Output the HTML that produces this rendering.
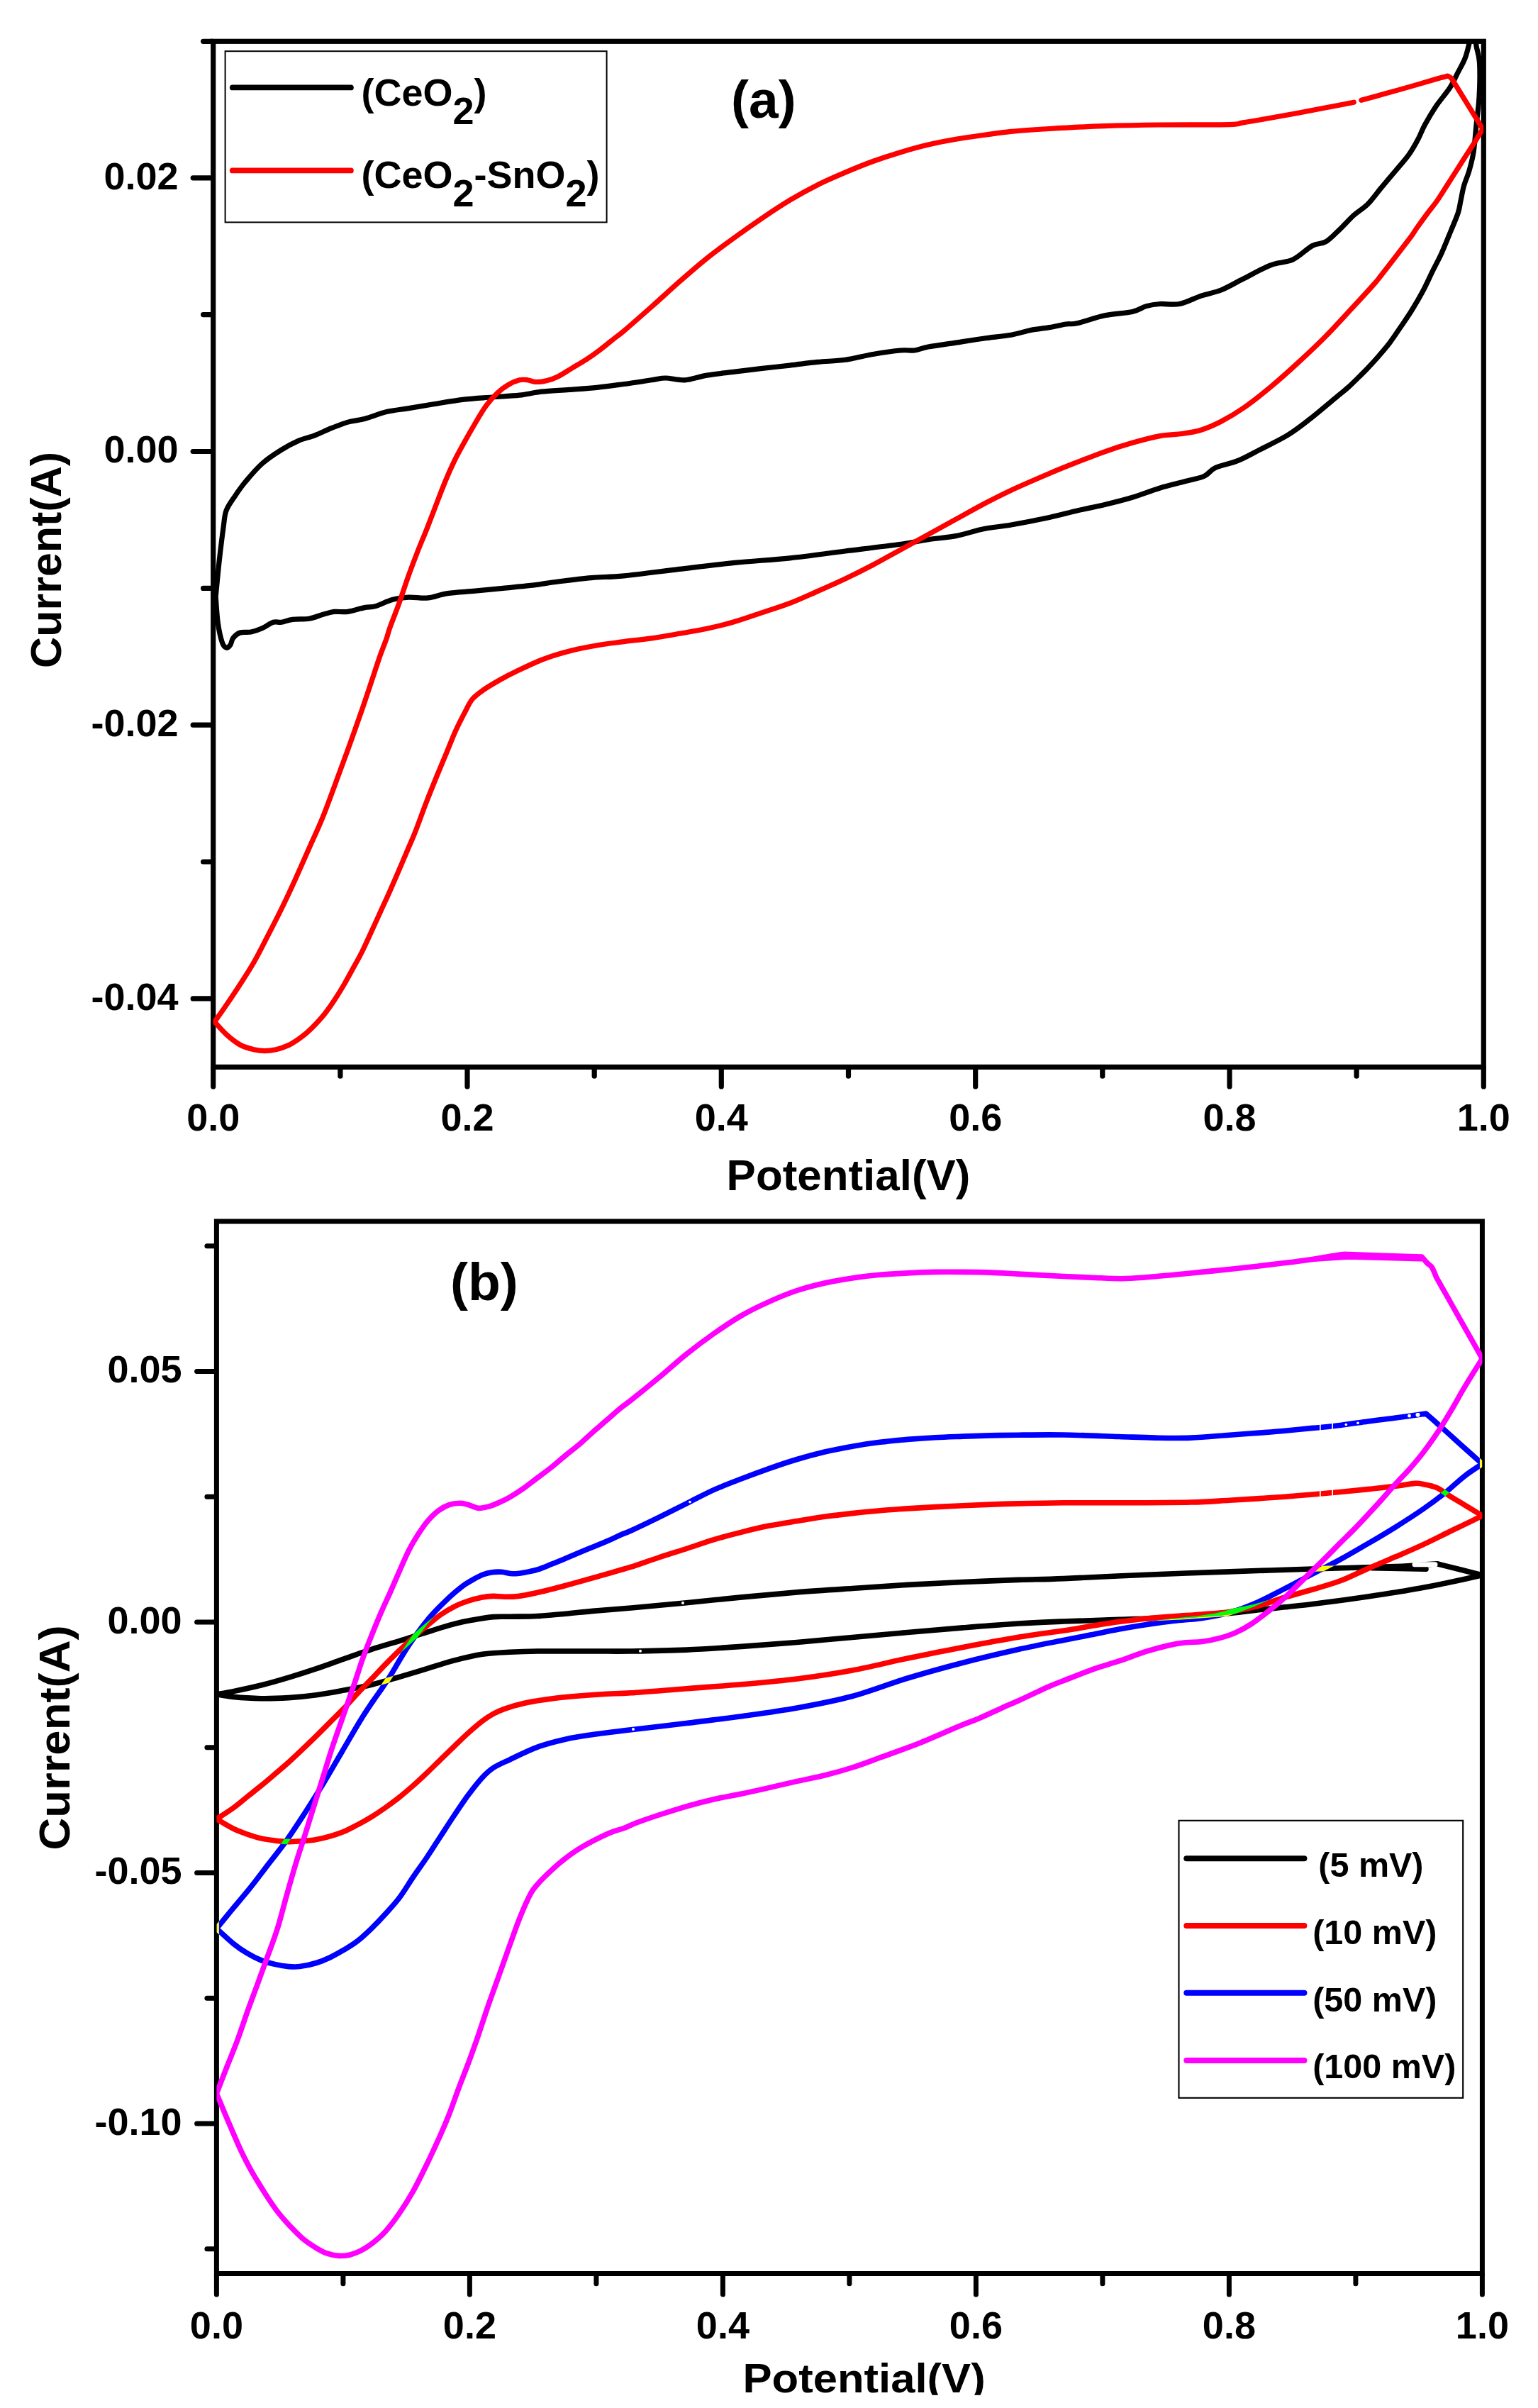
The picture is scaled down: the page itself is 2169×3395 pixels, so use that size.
<!DOCTYPE html>
<html lang="en"><head><meta charset="utf-8"><title>Cyclic voltammetry curves</title>
<style>html,body{margin:0;padding:0;background:#fff}svg{display:block}text{font-family:'Liberation Sans', Arial, Helvetica, sans-serif;font-weight:bold;fill:#000}</style></head><body>
<svg width="2169" height="3395" viewBox="0 0 2169 3395">
<rect width="2169" height="3395" fill="#fff"/>
<g stroke="#000" stroke-width="7.2" fill="none" stroke-linecap="round"><rect x="300.7" y="58.3" width="1791.6" height="1446.1" stroke-linejoin="miter"/><path d="M300.7,1505.9V1531.9"/><path d="M659.0,1505.9V1531.9"/><path d="M1017.3,1505.9V1531.9"/><path d="M1375.7,1505.9V1531.9"/><path d="M1734.0,1505.9V1531.9"/><path d="M2092.3,1505.9V1531.9"/><path d="M479.9,1505.9V1517.2"/><path d="M838.2,1505.9V1517.2"/><path d="M1196.5,1505.9V1517.2"/><path d="M1554.8,1505.9V1517.2"/><path d="M1913.1,1505.9V1517.2"/><path d="M299.2,250.8H272.2"/><path d="M299.2,636.5H272.2"/><path d="M299.2,1022.2H272.2"/><path d="M299.2,1407.9H272.2"/><path d="M299.2,58.3H286.6"/><path d="M299.2,443.6H286.6"/><path d="M299.2,829.4H286.6"/><path d="M299.2,1215.0H286.6"/></g>
<clipPath id="ca"><rect x="300.7" y="58.3" width="1791.6" height="1446.1"/></clipPath>
<g clip-path="url(#ca)" fill="none" stroke-linejoin="round" stroke-linecap="round">
<path d="M304.2,841.0C305.1,832.5 307.5,806.3 309.3,790.0C311.1,773.7 313.5,754.7 315.1,743.0C316.7,731.3 316.4,727.1 319.0,720.0C321.6,712.9 326.1,707.2 330.7,700.4C335.2,693.6 339.8,686.8 346.3,679.0C352.8,671.2 361.2,661.1 369.7,653.6C378.1,646.1 388.5,639.4 397.0,634.1C405.5,628.8 412.7,625.0 420.5,621.6C428.3,618.2 436.1,616.8 443.9,613.8C451.7,610.8 459.5,606.8 467.3,603.7C475.1,600.6 482.9,597.3 490.7,595.1C498.5,592.9 505.0,592.8 514.1,590.4C523.2,588.0 534.9,583.1 545.3,580.6C555.7,578.1 565.5,577.4 576.5,575.6C587.5,573.8 598.6,571.8 611.6,569.7C624.6,567.6 640.9,564.7 654.6,563.1C668.3,561.5 680.6,561.0 693.6,560.0C706.6,559.0 720.9,558.5 732.6,557.2C744.3,555.9 752.1,553.5 763.8,552.2C775.5,550.9 789.8,550.4 802.8,549.4C815.8,548.4 828.9,547.6 841.8,546.3C854.7,545.0 867.1,543.2 880.0,541.5C892.9,539.8 909.2,537.2 919.0,535.8C928.8,534.4 930.7,533.0 938.5,533.0C946.3,533.0 956.0,536.4 965.8,535.8C975.5,535.1 985.3,531.0 997.0,529.1C1008.7,527.2 1023.0,525.7 1036.0,524.1C1049.0,522.5 1062.0,520.9 1075.0,519.4C1088.0,517.9 1101.0,516.6 1114.0,515.1C1127.0,513.6 1140.0,511.7 1153.0,510.4C1166.0,509.1 1179.0,509.1 1192.0,507.3C1205.0,505.5 1218.0,501.7 1231.0,499.5C1244.0,497.3 1260.2,494.9 1270.0,494.0C1279.8,493.1 1283.2,494.8 1289.7,494.0C1296.2,493.2 1299.3,490.8 1309.0,489.0C1318.7,487.2 1335.0,485.1 1348.0,483.1C1361.0,481.1 1374.0,479.0 1387.0,477.2C1400.0,475.4 1414.9,474.1 1426.0,472.2C1437.1,470.2 1444.5,467.3 1453.5,465.5C1462.5,463.7 1471.7,463.0 1480.0,461.6C1488.3,460.2 1496.9,458.0 1503.4,457.0C1509.9,456.0 1509.9,457.8 1519.0,455.8C1528.1,453.8 1545.0,447.5 1558.0,444.8C1571.0,442.1 1587.2,441.6 1597.0,439.4C1606.8,437.2 1610.1,433.4 1616.6,431.6C1623.1,429.8 1628.2,429.0 1636.0,428.5C1643.8,428.0 1653.6,430.4 1663.4,428.5C1673.2,426.6 1684.8,420.1 1694.6,416.8C1704.4,413.6 1712.3,412.9 1722.0,409.0C1731.7,405.1 1741.3,399.2 1753.0,393.3C1764.7,387.4 1780.3,378.4 1792.0,373.8C1803.7,369.2 1813.5,370.6 1823.3,366.0C1833.1,361.4 1842.9,350.7 1850.7,346.5C1858.5,342.3 1863.5,344.6 1870.0,340.7C1876.5,336.8 1883.2,329.3 1889.7,323.1C1896.2,316.9 1902.5,309.5 1909.0,303.6C1915.5,297.8 1922.2,294.5 1928.7,288.0C1935.2,281.5 1941.5,272.4 1948.0,264.6C1954.5,256.8 1961.2,249.0 1967.7,241.2C1974.2,233.4 1981.6,225.3 1987.0,217.8C1992.4,210.3 1996.3,203.0 2000.0,196.0C2003.7,189.0 2005.2,183.7 2009.4,176.0C2013.6,168.3 2019.2,158.7 2025.0,150.0C2030.8,141.3 2039.3,132.0 2044.5,124.0C2049.7,116.0 2052.6,108.8 2056.2,101.9C2059.8,95.0 2063.4,89.1 2066.0,82.4C2068.6,75.8 2070.1,69.1 2071.8,62.0C2073.5,54.9 2075.0,45.7 2076.0,40.0C2077.0,34.3 2077.7,30.0 2078.0,28.0L2078.0,28.0C2078.3,28.0 2079.7,28.0 2080.0,28.0L2080.0,28.0C2080.3,33.7 2080.5,52.0 2081.6,62.0C2082.7,72.0 2085.8,75.8 2086.5,88.3C2087.2,100.8 2086.8,122.4 2086.0,137.0C2085.2,151.6 2083.3,163.0 2082.0,176.0C2080.7,189.0 2079.7,204.3 2078.0,215.0C2076.3,225.7 2074.2,232.6 2072.0,240.4C2069.8,248.2 2066.5,254.9 2064.5,262.0C2062.5,269.1 2061.4,276.7 2060.0,283.0C2058.6,289.3 2058.7,292.8 2056.3,300.0C2054.0,307.2 2049.8,316.5 2045.9,326.0C2042.0,335.5 2037.2,347.7 2032.9,357.2C2028.6,366.7 2024.2,374.4 2019.9,383.2C2015.6,392.0 2011.7,401.0 2006.9,410.0C2002.1,419.0 1996.5,428.6 1991.3,437.0C1986.1,445.4 1980.9,452.8 1975.7,460.5C1970.5,468.2 1965.3,476.1 1960.1,483.0C1954.9,489.9 1949.7,495.8 1944.5,501.8C1939.3,507.8 1933.5,514.1 1928.9,519.0C1924.3,523.9 1921.6,526.5 1917.0,531.0C1912.4,535.5 1906.6,541.3 1901.4,546.0C1896.2,550.7 1894.9,551.5 1885.8,559.0C1876.7,566.5 1858.5,582.1 1846.8,591.2C1835.1,600.3 1827.2,606.6 1815.5,613.8C1803.8,620.9 1788.2,628.1 1776.5,634.1C1764.8,640.1 1755.7,645.5 1745.3,649.7C1734.9,653.9 1721.8,655.9 1714.0,659.5C1706.2,663.1 1705.0,668.2 1698.5,671.2C1692.0,674.2 1685.4,675.0 1675.0,677.8C1664.6,680.6 1649.0,684.1 1636.0,688.0C1623.0,691.9 1610.0,697.3 1597.0,701.2C1584.0,705.1 1571.0,708.3 1558.0,711.4C1545.0,714.5 1532.0,717.0 1519.0,720.0C1506.0,723.0 1495.5,726.2 1480.0,729.5C1464.5,732.8 1441.5,737.3 1426.0,740.0C1410.5,742.7 1400.0,743.2 1387.0,745.8C1374.0,748.4 1361.0,753.1 1348.0,755.6C1335.0,758.1 1322.0,758.7 1309.0,760.6C1296.0,762.5 1289.5,764.6 1270.0,767.3C1250.5,770.0 1218.0,773.8 1192.0,777.0C1166.0,780.2 1140.0,784.1 1114.0,786.8C1088.0,789.5 1062.0,790.8 1036.0,793.4C1010.0,796.0 984.0,799.3 958.0,802.4C932.0,805.5 900.7,809.8 880.0,811.8C859.3,813.8 849.5,813.2 834.0,814.6C818.5,816.0 801.5,818.2 787.2,820.0C772.9,821.8 761.2,823.9 748.2,825.4C735.2,826.9 722.2,828.0 709.2,829.3C696.2,830.6 683.2,832.0 670.2,833.2C657.2,834.4 642.2,835.0 631.1,836.6C620.0,838.2 612.9,842.0 603.8,842.9C594.7,843.8 585.0,841.7 576.5,842.1C568.0,842.5 560.9,843.4 553.1,845.5C545.3,847.6 536.2,852.8 529.7,854.6C523.2,856.5 520.6,855.3 514.1,856.6C507.6,857.9 497.9,861.4 490.7,862.4C483.5,863.4 477.0,861.8 471.2,862.4C465.4,863.0 461.5,864.7 455.6,866.3C449.8,867.9 443.2,871.0 436.1,872.2C429.0,873.4 419.2,872.5 412.7,873.4C406.2,874.2 401.6,876.6 397.0,877.3C392.4,877.9 389.9,875.9 385.3,877.3C380.8,878.7 374.9,883.5 369.7,885.8C364.5,888.1 359.3,890.0 354.1,891.0C348.9,892.0 342.7,890.6 338.5,892.0C334.3,893.4 331.1,896.6 328.8,899.5C326.5,902.4 326.5,906.9 324.9,909.2C323.3,911.5 320.9,913.8 319.0,913.1C317.1,912.5 315.1,911.1 313.2,905.3C311.2,899.4 308.8,888.7 307.3,878.0C305.8,867.3 304.7,847.2 304.2,841.0" stroke="#000" stroke-width="7.2"/>
<path d="M302.6,1440.7C305.3,1436.8 313.0,1426.1 319.0,1417.3C325.0,1408.5 332.0,1398.1 338.5,1388.0C345.0,1377.9 351.5,1368.2 358.0,1356.8C364.5,1345.4 371.0,1332.3 377.5,1319.7C384.0,1307.1 390.5,1294.7 397.0,1281.3C403.5,1267.9 410.1,1253.7 416.6,1239.4C423.1,1225.1 429.6,1210.2 436.1,1195.5C442.6,1180.8 448.5,1168.8 455.6,1151.1C462.7,1133.3 472.3,1106.5 478.8,1089.0C485.3,1071.5 489.3,1060.5 494.5,1046.0C499.7,1031.5 505.2,1015.8 510.0,1002.0C514.8,988.2 518.7,976.4 523.0,963.5C527.3,950.6 532.3,935.1 536.0,924.5C539.7,913.9 542.9,906.7 545.2,900.0C547.5,893.3 547.0,892.8 550.0,884.5C553.0,876.2 558.7,862.1 563.0,850.0C567.3,837.9 571.7,824.1 576.0,812.0C580.3,799.9 584.7,788.6 589.0,777.5C593.3,766.4 597.7,756.6 602.0,745.6C606.3,734.6 610.7,723.0 615.0,711.8C619.3,700.6 623.7,688.9 628.0,678.5C632.3,668.1 636.6,658.4 641.0,649.4C645.4,640.4 649.5,633.2 654.3,624.5C659.1,615.8 664.8,605.8 670.0,597.0C675.2,588.2 680.6,578.9 685.8,571.7C691.0,564.6 696.2,559.0 701.4,554.1C706.6,549.2 711.8,545.5 717.0,542.4C722.2,539.3 728.1,536.9 732.6,535.8C737.1,534.7 740.4,535.3 744.3,535.8C748.2,536.2 751.5,538.4 756.0,538.5C760.5,538.6 766.4,537.9 771.6,536.6C776.8,535.3 781.4,533.6 787.2,530.7C793.1,527.8 800.2,522.9 806.7,519.0C813.2,515.1 819.7,511.5 826.2,507.3C832.7,503.1 839.2,498.5 845.7,493.6C852.2,488.7 859.6,482.5 865.3,478.0C871.0,473.5 871.0,474.1 880.0,466.5C889.0,458.9 906.0,443.9 919.0,432.4C932.0,420.9 945.0,408.7 958.0,397.3C971.0,385.9 984.0,374.5 997.0,364.1C1010.0,353.7 1023.0,344.2 1036.0,334.8C1049.0,325.4 1062.0,316.3 1075.0,307.5C1088.0,298.7 1101.0,290.0 1114.0,282.2C1127.0,274.4 1140.0,267.2 1153.0,260.7C1166.0,254.2 1179.0,248.6 1192.0,243.1C1205.0,237.6 1218.0,232.2 1231.0,227.5C1244.0,222.8 1257.0,218.6 1270.0,214.7C1283.0,210.8 1296.0,207.2 1309.0,204.1C1322.0,201.0 1335.0,198.6 1348.0,196.3C1361.0,194.0 1374.0,192.3 1387.0,190.5C1400.0,188.7 1410.5,186.9 1426.0,185.4C1441.5,183.9 1458.0,182.8 1480.0,181.5C1502.0,180.2 1532.0,178.5 1558.0,177.6C1584.0,176.7 1606.7,176.3 1636.0,176.0C1665.3,175.7 1714.1,176.1 1733.6,175.6C1753.1,175.1 1743.3,174.4 1753.0,172.9C1762.7,171.4 1779.0,168.6 1792.0,166.3C1805.0,164.0 1818.0,161.6 1831.0,159.2C1844.0,156.8 1857.0,154.3 1870.0,151.8C1883.0,149.3 1902.8,145.5 1909.3,144.2" stroke="#f00" stroke-width="7.2"/>
<path d="M1919.8,141.2C1924.5,139.9 1936.8,136.6 1948.0,133.5C1959.2,130.4 1974.0,126.3 1987.0,122.6C2000.0,118.9 2016.9,113.9 2026.0,111.3C2035.1,108.7 2039.0,107.7 2041.6,107.0L2041.6,107.0C2042.4,107.5 2044.9,108.2 2046.5,110.0C2048.1,111.8 2050.6,116.2 2051.4,117.5L2051.4,117.5C2058.0,128.2 2084.4,171.2 2091.0,181.9L2091.0,181.9C2089.2,184.9 2084.4,193.0 2080.0,200.0C2075.6,207.0 2071.4,213.2 2064.5,224.0C2057.6,234.8 2045.1,254.5 2038.7,264.5C2032.3,274.5 2030.2,278.0 2026.0,284.0C2021.8,290.0 2018.0,294.2 2013.3,300.5C2008.6,306.8 2002.1,315.8 1997.7,322.0C1993.3,328.2 1995.3,326.5 1987.0,337.5C1978.7,348.5 1956.4,377.2 1948.0,388.0C1939.6,398.8 1943.0,394.7 1936.5,402.0C1930.0,409.3 1920.1,420.1 1909.0,432.0C1897.9,443.9 1883.0,460.5 1870.0,473.7C1857.0,486.9 1844.0,499.0 1831.0,511.0C1818.0,523.0 1805.0,534.7 1792.0,545.5C1779.0,556.3 1764.7,567.5 1753.0,575.6C1741.3,583.7 1731.7,589.2 1722.0,594.3C1712.3,599.4 1703.7,603.1 1694.6,606.0C1685.5,608.9 1677.1,610.1 1667.3,611.5C1657.5,612.9 1647.7,612.5 1636.0,614.6C1624.3,616.7 1610.0,620.6 1597.0,624.3C1584.0,628.0 1571.0,632.2 1558.0,636.8C1545.0,641.4 1532.0,646.6 1519.0,651.7C1506.0,656.8 1495.5,660.9 1480.0,667.5C1464.5,674.1 1441.5,684.0 1426.0,691.2C1410.5,698.4 1400.0,703.9 1387.0,710.7C1374.0,717.5 1361.0,725.1 1348.0,732.2C1335.0,739.4 1322.0,746.5 1309.0,753.6C1296.0,760.8 1283.0,768.0 1270.0,775.1C1257.0,782.2 1244.0,789.7 1231.0,796.5C1218.0,803.3 1205.0,809.8 1192.0,816.0C1179.0,822.2 1166.0,827.9 1153.0,833.6C1140.0,839.3 1127.0,845.4 1114.0,850.4C1101.0,855.4 1088.0,859.2 1075.0,863.6C1062.0,868.0 1049.0,872.7 1036.0,876.5C1023.0,880.3 1010.0,883.5 997.0,886.3C984.0,889.1 971.0,891.0 958.0,893.3C945.0,895.6 932.0,898.0 919.0,899.9C906.0,901.8 892.2,903.0 880.0,904.6C867.8,906.2 857.9,907.1 845.7,909.2C833.5,911.3 819.7,913.7 806.7,917.0C793.7,920.3 780.7,923.9 767.7,928.8C754.7,933.7 739.1,941.3 728.7,946.3C718.3,951.2 712.9,954.1 705.1,958.5C697.3,962.9 688.2,968.2 681.7,972.8C675.2,977.3 670.4,980.6 666.1,985.8C661.8,991.0 659.6,996.6 655.7,1004.0C651.8,1011.4 647.0,1020.5 642.7,1030.0C638.4,1039.5 634.0,1050.9 629.7,1061.3C625.4,1071.7 621.5,1080.8 616.7,1092.5C611.9,1104.2 606.3,1118.1 601.1,1131.5C595.9,1144.9 589.7,1162.4 585.5,1173.1C581.3,1183.8 579.8,1186.7 576.0,1195.5C572.2,1204.3 567.3,1215.9 563.0,1226.0C558.7,1236.1 554.3,1246.2 550.0,1256.0C545.7,1265.8 541.3,1275.0 537.0,1284.5C532.7,1294.0 528.3,1303.6 524.0,1313.0C519.7,1322.4 515.3,1332.3 511.0,1341.0C506.7,1349.7 502.3,1357.1 498.0,1365.0C493.7,1372.9 489.3,1381.1 485.0,1388.5C480.7,1395.9 476.3,1402.9 472.0,1409.5C467.7,1416.1 463.3,1422.4 459.0,1428.0C454.7,1433.6 450.3,1438.4 446.0,1443.0C441.7,1447.6 437.3,1452.0 433.0,1455.8C428.7,1459.6 424.3,1462.8 420.0,1465.8C415.7,1468.8 412.1,1471.3 407.0,1473.6C401.9,1475.9 394.8,1478.4 389.2,1479.7C383.6,1481.0 378.8,1481.6 373.6,1481.6C368.4,1481.6 363.9,1481.1 358.0,1479.7C352.1,1478.3 345.0,1476.6 338.5,1473.0C332.0,1469.4 325.0,1463.6 319.0,1458.2C313.0,1452.8 305.3,1443.6 302.6,1440.7" stroke="#f00" stroke-width="7.2"/>
</g>
<text x="300.7" y="1594.3" font-size="54" text-anchor="middle">0.0</text>
<text x="659.0" y="1594.3" font-size="54" text-anchor="middle">0.2</text>
<text x="1017.3" y="1594.3" font-size="54" text-anchor="middle">0.4</text>
<text x="1375.7" y="1594.3" font-size="54" text-anchor="middle">0.6</text>
<text x="1734.0" y="1594.3" font-size="54" text-anchor="middle">0.8</text>
<text x="2092.3" y="1594.3" font-size="54" text-anchor="middle">1.0</text>
<text x="251.5" y="266.6" font-size="54" text-anchor="end">0.02</text>
<text x="251.5" y="652.3" font-size="54" text-anchor="end">0.00</text>
<text x="251.5" y="1038.0" font-size="54" text-anchor="end">-0.02</text>
<text x="251.5" y="1423.7" font-size="54" text-anchor="end">-0.04</text>
<text transform="translate(1196.5,1677.8) scale(1.0145,1)" font-size="61" text-anchor="middle">Potential(V)</text>
<text transform="translate(86.3,789.4) rotate(-90)" font-size="61" text-anchor="middle">Current(A)</text>
<text x="1076.8" y="165.5" font-size="75" text-anchor="middle">(a)</text>
<rect x="317.6" y="72.2" width="538" height="241.2" fill="#fff" stroke="#000" stroke-width="2"/>
<g stroke-width="7.8" stroke-linecap="round"><path d="M327.8,123.4H494.9" stroke="#000"/><path d="M327.8,240.4H494.9" stroke="#f00"/></g>
<text x="509.5" y="149.1" font-size="54">(CeO<tspan dy="26">2</tspan><tspan dy="-26">)</tspan></text>
<text x="509.5" y="265.2" font-size="54">(CeO<tspan dy="26">2</tspan><tspan dy="-26">-SnO</tspan><tspan dy="26">2</tspan><tspan dy="-26">)</tspan></text>
<g stroke="#000" stroke-width="7.0" fill="none" stroke-linecap="round"><rect x="305.4" y="1722.0" width="1785.0" height="1483.5" stroke-linejoin="miter"/><path d="M305.4,3207.0V3234.9"/><path d="M662.4,3207.0V3234.9"/><path d="M1019.4,3207.0V3234.9"/><path d="M1376.4,3207.0V3234.9"/><path d="M1733.4,3207.0V3234.9"/><path d="M2090.4,3207.0V3234.9"/><path d="M483.9,3207.0V3219.8"/><path d="M840.9,3207.0V3219.8"/><path d="M1197.9,3207.0V3219.8"/><path d="M1554.9,3207.0V3219.8"/><path d="M1911.9,3207.0V3219.8"/><path d="M303.9,1933.5H277.6"/><path d="M303.9,2287.0H277.6"/><path d="M303.9,2640.5H277.6"/><path d="M303.9,2994.0H277.6"/><path d="M303.9,1756.8H291.9"/><path d="M303.9,2110.2H291.9"/><path d="M303.9,2463.8H291.9"/><path d="M303.9,2817.2H291.9"/><path d="M303.9,3170.8H291.9"/></g>
<clipPath id="cb"><rect x="305.4" y="1722.0" width="1785.0" height="1483.5"/></clipPath>
<g clip-path="url(#cb)" fill="none" stroke-linejoin="round" stroke-linecap="round">
<path d="M305.4,2388.7C309.3,2388.0 318.6,2386.7 329.0,2384.6C339.4,2382.5 355.0,2379.2 368.0,2376.0C381.0,2372.8 394.0,2369.0 407.0,2365.1C420.0,2361.2 433.1,2357.0 446.1,2352.6C459.1,2348.2 472.1,2343.4 485.1,2338.9C498.1,2334.4 511.1,2329.5 524.1,2325.3C537.1,2321.1 550.1,2317.6 563.1,2313.6C576.1,2309.6 589.1,2305.1 602.1,2301.1C615.1,2297.1 630.8,2292.2 641.2,2289.4C651.6,2286.6 655.5,2285.9 664.6,2284.3C673.7,2282.7 686.7,2280.4 695.8,2279.6C704.9,2278.8 708.8,2279.4 719.2,2279.2C729.6,2279.0 745.2,2279.2 758.2,2278.5C771.2,2277.8 784.2,2276.5 797.2,2275.3C810.2,2274.1 820.7,2272.8 836.2,2271.4C851.7,2270.0 868.0,2268.9 890.0,2267.0C912.0,2265.1 942.0,2262.2 968.0,2259.7C994.0,2257.2 1020.0,2254.4 1046.0,2251.9C1072.0,2249.4 1098.0,2247.0 1124.0,2244.9C1150.0,2242.8 1176.0,2241.2 1202.0,2239.5C1228.0,2237.8 1254.0,2235.9 1280.0,2234.4C1306.0,2232.9 1332.0,2231.7 1358.0,2230.5C1384.0,2229.3 1412.3,2228.2 1436.0,2227.4C1459.7,2226.6 1469.8,2226.8 1500.0,2225.6C1530.2,2224.4 1578.0,2221.8 1617.0,2220.2C1656.0,2218.6 1695.1,2217.3 1734.1,2215.9C1773.1,2214.5 1812.2,2213.2 1851.2,2212.0C1890.2,2210.8 1942.2,2209.5 1968.2,2208.5C1994.2,2207.5 1997.4,2206.7 2007.2,2206.1C2017.0,2205.5 2023.7,2205.0 2027.0,2204.8L2027.0,2204.8C2037.6,2207.5 2079.8,2218.1 2090.4,2220.8L2090.4,2220.8C2083.0,2222.4 2060.9,2227.4 2046.2,2230.5C2031.5,2233.6 2015.0,2236.8 2002.0,2239.2C1989.0,2241.6 1980.3,2243.0 1968.2,2245.0C1956.1,2247.0 1942.2,2249.1 1929.2,2251.0C1916.2,2252.9 1903.2,2254.8 1890.2,2256.5C1877.2,2258.2 1864.2,2259.9 1851.2,2261.5C1838.2,2263.1 1825.1,2264.4 1812.1,2265.8C1799.1,2267.2 1786.1,2268.6 1773.1,2270.0C1760.1,2271.4 1753.6,2272.8 1734.1,2274.5C1714.6,2276.2 1682.0,2278.8 1656.0,2280.3C1630.0,2281.8 1604.0,2282.5 1578.0,2283.4C1552.0,2284.3 1523.7,2285.1 1500.0,2286.0C1476.3,2286.9 1459.7,2287.5 1436.0,2289.0C1412.3,2290.5 1384.0,2292.8 1358.0,2294.9C1332.0,2297.0 1306.0,2299.2 1280.0,2301.5C1254.0,2303.8 1228.0,2306.2 1202.0,2308.5C1176.0,2310.8 1150.0,2313.3 1124.0,2315.5C1098.0,2317.7 1072.0,2319.6 1046.0,2321.4C1020.0,2323.2 994.0,2325.0 968.0,2326.1C942.0,2327.2 912.0,2327.7 890.0,2328.0C868.0,2328.3 858.2,2328.0 836.2,2328.0C814.2,2328.0 777.7,2327.8 758.2,2328.0C738.7,2328.2 732.2,2328.5 719.2,2329.2C706.2,2329.9 693.2,2330.4 680.2,2332.3C667.2,2334.2 654.2,2337.5 641.2,2340.9C628.2,2344.3 615.1,2348.7 602.1,2352.6C589.1,2356.5 576.1,2360.5 563.1,2364.3C550.1,2368.1 537.1,2372.1 524.1,2375.2C511.1,2378.3 498.1,2380.6 485.1,2383.0C472.1,2385.4 459.1,2387.9 446.1,2389.7C433.1,2391.5 420.0,2392.8 407.0,2393.6C394.0,2394.4 381.0,2394.9 368.0,2394.7C355.0,2394.5 339.4,2393.4 329.0,2392.4C318.6,2391.4 309.3,2389.3 305.4,2388.7" stroke="#000" stroke-width="7.6"/>
<path d="M1935,2210.8L2011,2212.2" stroke="#000" stroke-width="7.6"/>
<path d="M1995,2205.7H2024" stroke="#fff" stroke-width="7"/>
<path d="M305.4,2564.6C309.3,2562.0 321.8,2554.2 329.0,2549.0C336.2,2543.8 342.0,2538.6 348.5,2533.4C355.0,2528.2 361.5,2523.1 368.0,2517.8C374.5,2512.5 381.0,2506.9 387.5,2501.4C394.0,2495.9 400.5,2490.4 407.0,2484.6C413.5,2478.8 420.1,2472.5 426.6,2466.3C433.1,2460.1 439.6,2453.9 446.1,2447.5C452.6,2441.1 459.1,2434.5 465.6,2428.0C472.1,2421.5 478.6,2415.3 485.1,2408.5C491.6,2401.7 498.1,2394.0 504.6,2387.1C511.1,2380.2 517.6,2373.8 524.1,2367.0C530.6,2360.2 537.1,2353.2 543.6,2346.5C550.1,2339.8 556.6,2333.2 563.1,2327.0C569.6,2320.8 576.1,2314.8 582.6,2309.0C589.1,2303.2 595.6,2297.5 602.1,2292.1C608.6,2286.7 615.1,2281.1 621.6,2276.5C628.1,2271.9 634.7,2268.1 641.2,2264.8C647.7,2261.6 654.2,2259.2 660.7,2257.0C667.2,2254.8 674.4,2253.0 680.2,2251.9C686.1,2250.8 690.6,2250.5 695.8,2250.4C701.0,2250.3 705.5,2251.2 711.4,2251.2C717.2,2251.2 723.1,2251.4 730.9,2250.4C738.7,2249.4 750.4,2246.9 758.2,2245.3C766.0,2243.7 771.2,2242.2 777.7,2240.6C784.2,2239.0 790.7,2237.2 797.2,2235.5C803.7,2233.8 810.2,2231.9 816.7,2230.1C823.2,2228.3 829.7,2226.4 836.2,2224.6C842.7,2222.8 849.2,2221.1 855.7,2219.2C862.2,2217.3 869.6,2215.0 875.3,2213.3C881.0,2211.6 881.0,2212.1 890.0,2209.2C899.0,2206.3 916.0,2200.3 929.0,2196.0C942.0,2191.7 955.0,2187.7 968.0,2183.5C981.0,2179.3 994.0,2174.5 1007.0,2170.6C1020.0,2166.7 1033.0,2163.3 1046.0,2160.1C1059.0,2156.8 1072.0,2153.7 1085.0,2151.1C1098.0,2148.5 1111.0,2146.6 1124.0,2144.5C1137.0,2142.4 1150.0,2140.1 1163.0,2138.3C1176.0,2136.5 1189.0,2135.0 1202.0,2133.6C1215.0,2132.2 1228.0,2130.8 1241.0,2129.7C1254.0,2128.6 1267.0,2127.8 1280.0,2126.9C1293.0,2126.1 1306.0,2125.3 1319.0,2124.6C1332.0,2123.9 1345.0,2123.3 1358.0,2122.7C1371.0,2122.1 1384.0,2121.6 1397.0,2121.1C1410.0,2120.6 1418.8,2120.3 1436.0,2119.9C1453.2,2119.5 1476.3,2119.0 1500.0,2118.8C1523.7,2118.6 1548.1,2118.9 1578.0,2118.8C1607.9,2118.7 1653.5,2118.6 1679.5,2118.0C1705.5,2117.4 1718.5,2116.0 1734.1,2115.2C1749.7,2114.3 1760.1,2113.7 1773.1,2112.9C1786.1,2112.1 1799.1,2111.2 1812.1,2110.2C1825.1,2109.2 1838.2,2108.1 1851.2,2107.0C1864.2,2105.9 1877.2,2104.7 1890.2,2103.5C1903.2,2102.3 1916.2,2101.0 1929.2,2099.6C1942.2,2098.2 1957.2,2096.7 1968.2,2095.3C1979.2,2093.9 1989.0,2091.9 1995.5,2091.4C2002.0,2090.9 2002.0,2091.6 2007.2,2092.6C2012.4,2093.6 2020.2,2094.8 2026.7,2097.7C2033.2,2100.6 2039.7,2106.2 2046.2,2110.2C2052.7,2114.2 2058.3,2117.4 2065.7,2121.9C2073.1,2126.4 2086.3,2134.5 2090.4,2137.0L2090.4,2137.0C2086.3,2139.0 2073.1,2145.6 2065.7,2149.2C2058.3,2152.8 2055.9,2153.8 2046.2,2158.5C2036.5,2163.2 2020.2,2171.5 2007.2,2177.6C1994.2,2183.7 1981.2,2189.2 1968.2,2194.8C1955.2,2200.4 1942.2,2205.7 1929.2,2211.4C1916.2,2217.1 1903.2,2223.9 1890.2,2228.8C1877.2,2233.7 1864.2,2237.1 1851.2,2241.0C1838.2,2244.9 1825.1,2248.1 1812.1,2252.0C1799.1,2255.9 1786.1,2261.1 1773.1,2264.5C1760.1,2267.9 1747.1,2270.6 1734.1,2272.5C1721.1,2274.4 1708.0,2274.9 1695.0,2276.0C1682.0,2277.1 1669.0,2277.8 1656.0,2278.8C1643.0,2279.8 1630.0,2280.7 1617.0,2282.0C1604.0,2283.3 1591.0,2284.8 1578.0,2286.5C1565.0,2288.2 1552.0,2290.4 1539.0,2292.5C1526.0,2294.6 1517.2,2296.4 1500.0,2299.0C1482.8,2301.6 1459.7,2304.4 1436.0,2308.3C1412.3,2312.2 1384.0,2317.5 1358.0,2322.4C1332.0,2327.3 1306.0,2332.6 1280.0,2338.0C1254.0,2343.4 1228.0,2350.2 1202.0,2355.0C1176.0,2359.8 1150.0,2363.7 1124.0,2367.0C1098.0,2370.3 1072.0,2372.5 1046.0,2374.8C1020.0,2377.1 994.0,2378.7 968.0,2380.7C942.0,2382.7 908.7,2385.6 890.0,2386.8C871.3,2388.1 867.9,2387.5 855.7,2388.2C843.5,2388.9 829.7,2389.9 816.7,2391.0C803.7,2392.1 790.7,2393.2 777.7,2394.9C764.7,2396.7 749.8,2399.1 738.7,2401.5C727.7,2403.9 718.5,2406.8 711.4,2409.3C704.2,2411.8 701.0,2413.4 695.8,2416.3C690.6,2419.2 686.1,2422.1 680.2,2426.5C674.4,2430.9 667.2,2437.2 660.7,2443.0C654.2,2448.8 647.7,2455.2 641.2,2461.5C634.7,2467.8 628.1,2474.2 621.6,2480.5C615.1,2486.8 608.6,2493.3 602.1,2499.5C595.6,2505.7 589.1,2511.8 582.6,2517.5C576.1,2523.2 569.6,2528.8 563.1,2534.0C556.6,2539.2 550.1,2543.9 543.6,2548.5C537.1,2553.1 530.6,2557.5 524.1,2561.5C517.6,2565.5 511.1,2569.1 504.6,2572.5C498.1,2575.9 491.6,2579.5 485.1,2582.2C478.6,2584.9 472.1,2586.9 465.6,2588.8C459.1,2590.7 452.6,2592.3 446.1,2593.5C439.6,2594.7 433.1,2595.3 426.6,2595.8C420.1,2596.3 413.5,2596.7 407.0,2596.6C400.5,2596.5 394.0,2595.8 387.5,2595.0C381.0,2594.2 374.5,2593.4 368.0,2591.9C361.5,2590.4 355.0,2588.3 348.5,2586.0C342.0,2583.7 336.2,2581.8 329.0,2578.2C321.8,2574.6 309.3,2566.9 305.4,2564.6" stroke="#f00" stroke-width="7.6"/>
<path d="M305.4,2719.0C308.8,2714.8 318.2,2703.3 326.0,2693.9C333.8,2684.5 343.3,2673.5 352.0,2662.7C360.7,2651.9 369.3,2640.2 378.0,2628.9C386.7,2617.6 395.3,2607.2 404.0,2595.0C412.7,2582.8 421.3,2569.4 430.0,2556.0C438.7,2542.6 447.3,2528.7 456.0,2514.4C464.7,2500.1 473.3,2484.9 482.0,2470.2C490.7,2455.5 500.6,2438.0 508.0,2426.0C515.4,2414.0 521.3,2405.4 526.3,2398.0C531.3,2390.6 533.9,2387.3 538.0,2381.3C542.1,2375.3 546.7,2368.7 551.0,2361.8C555.3,2354.9 559.7,2346.8 564.0,2339.7C568.3,2332.5 572.7,2325.4 577.0,2318.9C581.3,2312.4 585.7,2306.5 590.0,2300.7C594.3,2294.8 598.7,2289.0 603.0,2283.8C607.3,2278.6 611.7,2274.0 616.0,2269.4C620.3,2264.8 624.7,2260.5 629.0,2256.4C633.3,2252.3 637.7,2248.4 642.0,2244.7C646.3,2241.0 650.7,2237.3 655.0,2234.3C659.3,2231.3 663.7,2228.9 668.0,2226.5C672.3,2224.1 676.7,2221.6 681.0,2220.0C685.3,2218.4 689.6,2217.3 694.0,2216.7C698.4,2216.1 702.6,2216.0 707.5,2216.3C712.4,2216.7 717.9,2218.7 723.1,2218.8C728.3,2219.0 732.9,2218.2 738.7,2217.2C744.6,2216.2 751.7,2214.9 758.2,2212.9C764.7,2210.9 771.1,2208.0 777.7,2205.3C784.3,2202.7 790.3,2200.2 798.0,2197.0C805.7,2193.8 814.4,2190.0 824.0,2186.0C833.6,2182.0 847.2,2176.8 855.7,2173.1C864.2,2169.4 869.6,2166.5 875.3,2164.0C881.0,2161.5 881.0,2162.1 890.0,2158.0C899.0,2153.9 916.0,2145.8 929.0,2139.4C942.0,2133.1 955.0,2126.4 968.0,2119.9C981.0,2113.4 994.0,2106.2 1007.0,2100.4C1020.0,2094.6 1033.0,2089.8 1046.0,2084.8C1059.0,2079.8 1072.0,2075.0 1085.0,2070.4C1098.0,2065.8 1111.0,2061.4 1124.0,2057.5C1137.0,2053.6 1150.0,2050.1 1163.0,2047.0C1176.0,2044.0 1189.0,2041.5 1202.0,2039.2C1215.0,2036.9 1228.0,2034.9 1241.0,2033.3C1254.0,2031.7 1267.0,2030.5 1280.0,2029.4C1293.0,2028.3 1306.0,2027.4 1319.0,2026.7C1332.0,2026.0 1345.0,2025.6 1358.0,2025.1C1371.0,2024.6 1384.0,2024.2 1397.0,2023.9C1410.0,2023.6 1418.8,2023.4 1436.0,2023.2C1453.2,2023.0 1476.3,2022.6 1500.0,2023.0C1523.7,2023.4 1556.5,2024.8 1578.0,2025.5C1599.5,2026.2 1611.9,2026.8 1628.8,2027.1C1645.7,2027.4 1662.0,2027.8 1679.5,2027.1C1697.0,2026.4 1718.5,2024.3 1734.1,2023.2C1749.7,2022.1 1760.1,2021.4 1773.1,2020.4C1786.1,2019.4 1799.1,2018.5 1812.1,2017.3C1825.1,2016.1 1838.2,2014.7 1851.2,2013.4C1864.2,2012.1 1877.2,2011.1 1890.2,2009.5C1903.2,2007.9 1916.2,2005.8 1929.2,2004.0C1942.2,2002.2 1954.6,2000.8 1968.2,1999.0C1981.8,1997.2 2003.9,1994.1 2011.1,1993.1L2011.1,1993.1C2013.7,1995.4 2020.8,2001.6 2026.7,2006.8C2032.6,2012.0 2039.7,2018.4 2046.2,2024.3C2052.7,2030.2 2058.3,2035.3 2065.7,2041.9C2073.1,2048.5 2086.3,2060.3 2090.4,2064.0L2090.4,2064.0C2086.3,2066.8 2074.4,2074.2 2065.7,2080.9C2057.0,2087.6 2048.2,2096.5 2038.4,2104.3C2028.7,2112.1 2018.9,2119.4 2007.2,2127.5C1995.5,2135.6 1981.2,2144.8 1968.2,2152.9C1955.2,2161.0 1942.2,2168.7 1929.2,2176.3C1916.2,2183.9 1903.2,2191.6 1890.2,2198.7C1877.2,2205.8 1864.2,2212.2 1851.2,2219.0C1838.2,2225.8 1825.1,2233.0 1812.1,2239.7C1799.1,2246.4 1786.1,2253.5 1773.1,2259.2C1760.1,2264.8 1747.1,2269.9 1734.1,2273.6C1721.1,2277.3 1708.0,2279.4 1695.0,2281.4C1682.0,2283.4 1669.0,2283.8 1656.0,2285.3C1643.0,2286.8 1630.0,2288.5 1617.0,2290.4C1604.0,2292.3 1591.0,2294.6 1578.0,2297.0C1565.0,2299.4 1552.0,2302.2 1539.0,2304.8C1526.0,2307.4 1517.2,2309.1 1500.0,2312.5C1482.8,2315.9 1459.7,2320.2 1436.0,2325.5C1412.3,2330.8 1384.0,2337.4 1358.0,2344.2C1332.0,2350.9 1306.0,2358.1 1280.0,2366.0C1254.0,2373.9 1228.0,2384.5 1202.0,2391.5C1176.0,2398.5 1150.0,2403.3 1124.0,2408.0C1098.0,2412.7 1072.0,2416.1 1046.0,2419.7C1020.0,2423.3 994.0,2426.3 968.0,2429.5C942.0,2432.7 912.0,2436.0 890.0,2438.7C868.0,2441.4 851.7,2443.3 836.2,2445.6C820.7,2447.8 810.2,2449.3 797.2,2452.2C784.2,2455.1 771.2,2458.3 758.2,2463.1C745.2,2467.8 729.6,2475.8 719.2,2480.7C708.8,2485.6 702.3,2488.2 695.8,2492.4C689.3,2496.6 686.1,2499.8 680.2,2506.1C674.4,2512.4 667.2,2521.6 660.7,2530.3C654.2,2539.0 647.7,2548.8 641.2,2558.5C634.7,2568.2 628.1,2578.5 621.6,2588.5C615.1,2598.5 608.6,2608.8 602.1,2618.5C595.6,2628.2 589.1,2636.9 582.6,2646.5C576.1,2656.1 569.6,2667.2 563.1,2675.8C556.6,2684.5 550.1,2691.2 543.6,2698.4C537.1,2705.6 530.6,2712.4 524.1,2718.7C517.6,2725.0 511.1,2731.2 504.6,2736.3C498.1,2741.4 491.6,2745.2 485.1,2749.1C478.6,2753.0 472.1,2756.6 465.6,2759.7C459.1,2762.8 453.2,2765.3 446.1,2767.5C439.0,2769.7 429.2,2771.8 422.7,2772.6C416.2,2773.4 412.9,2773.1 407.0,2772.6C401.1,2772.1 394.0,2770.9 387.5,2769.4C381.0,2767.9 374.5,2766.2 368.0,2763.6C361.5,2761.0 355.0,2757.7 348.5,2753.8C342.0,2749.9 336.2,2746.0 329.0,2740.2C321.8,2734.4 309.3,2722.5 305.4,2719.0" stroke="#00f" stroke-width="7.6"/>
<g fill="#fff" stroke="none"><circle cx="1898.3" cy="2008.6" r="1.8"/><circle cx="1915" cy="2006.3" r="1.8"/><circle cx="1987.5" cy="1996.2" r="2.4"/><circle cx="1999.5" cy="1994.8" r="3"/><circle cx="973" cy="2117.6" r="1.8"/><circle cx="963" cy="2260" r="2"/><circle cx="903" cy="2327.8" r="2"/><circle cx="893" cy="2438" r="2"/></g>
<g stroke="#fff" stroke-width="1.6" stroke-linecap="butt"><path d="M1861.9,2007V2020"/><path d="M1879.2,2005V2018"/><path d="M1861.9,2101V2113"/><path d="M1879.2,2099V2111"/></g>
<path d="M1742.6,2275.0L1768.1,2265.5L1790.7,2255.1L1778.5,2259.0L1765.7,2262.5L1740.7,2267.6L1726.7,2271.6L1713.8,2274.4L1688.0,2278.5L1655.6,2281.5L1631.5,2284.5L1721.5,2277.8ZM2038.1,2109.4L2044.3,2104.4L2037.8,2099.9L2031.6,2104.8ZM582.6,2304.3L573.9,2316.8L565.4,2330.0L589.1,2308.3L603.8,2288.8L613.0,2278.2L593.1,2294.7ZM401.1,2592.5L395.8,2599.7L404.8,2600.3L410.2,2592.8Z" fill="#0f0" stroke="none"/>
<path d="M308.9,2708.7L305.4,2713.0L305.4,2724.2L308.9,2727.4ZM1729.7,2278.7L1742.6,2275.0L1721.4,2277.8L1636.8,2284.1L1623.6,2285.6L1669.7,2283.3ZM1866.6,2215.3L1882.2,2207.3L1864.6,2207.8L1849.0,2215.9ZM2090.4,2068.6L2090.4,2058.9L2086.9,2055.8L2086.9,2070.8ZM543.8,2366.0L537.2,2375.7L548.6,2372.5L554.9,2362.7Z" fill="#ff0" stroke="none"/>
<path d="M305.4,2951.5C307.8,2945.2 315.1,2926.6 320.0,2914.0C324.9,2901.4 330.0,2889.5 335.0,2876.0C340.0,2862.5 345.5,2845.7 350.0,2833.0C354.5,2820.3 357.9,2811.8 362.2,2800.0C366.5,2788.2 371.2,2775.3 376.0,2762.0C380.8,2748.7 386.3,2734.7 391.0,2719.9C395.7,2705.1 399.7,2688.4 404.0,2673.1C408.3,2657.8 412.7,2642.3 417.0,2628.0C421.3,2613.7 425.7,2601.0 430.0,2587.3C434.3,2573.6 438.7,2559.5 443.0,2545.6C447.3,2531.7 451.7,2517.9 456.0,2504.0C460.3,2490.1 464.3,2476.5 469.0,2462.4C473.7,2448.3 479.0,2433.6 484.0,2419.2C489.0,2404.8 494.3,2389.8 499.0,2376.1C503.7,2362.4 507.7,2349.2 512.0,2337.1C516.3,2325.0 520.7,2314.1 525.0,2303.3C529.3,2292.5 533.7,2282.1 538.0,2272.1C542.3,2262.1 546.7,2253.2 551.0,2243.4C555.3,2233.6 559.7,2223.2 564.0,2213.5C568.3,2203.8 572.7,2193.4 577.0,2185.0C581.3,2176.6 585.7,2169.5 590.0,2162.8C594.3,2156.1 598.4,2150.0 603.0,2144.6C607.6,2139.2 612.7,2134.0 617.7,2130.2C622.8,2126.4 628.1,2123.4 633.3,2121.6C638.5,2119.8 644.4,2119.3 649.0,2119.3C653.6,2119.3 656.5,2120.4 660.7,2121.6C664.9,2122.8 669.8,2125.9 674.3,2126.3C678.8,2126.8 683.1,2125.6 688.0,2124.3C692.9,2123.0 698.4,2120.8 703.6,2118.5C708.8,2116.2 713.4,2114.1 719.2,2110.7C725.1,2107.3 732.2,2102.8 738.7,2098.2C745.2,2093.6 751.7,2088.3 758.2,2083.4C764.7,2078.5 771.2,2073.8 777.7,2068.6C784.2,2063.4 790.7,2057.5 797.2,2052.2C803.7,2046.9 810.2,2042.1 816.7,2036.6C823.2,2031.1 829.7,2024.7 836.2,2019.0C842.7,2013.3 849.2,2007.9 855.7,2002.2C862.2,1996.5 869.6,1989.8 875.3,1985.1C881.0,1980.4 881.0,1981.1 890.0,1974.0C899.0,1966.9 916.0,1953.2 929.0,1942.4C942.0,1931.6 955.0,1919.6 968.0,1909.2C981.0,1898.8 994.0,1889.1 1007.0,1880.0C1020.0,1870.9 1033.0,1862.1 1046.0,1854.6C1059.0,1847.1 1072.0,1840.9 1085.0,1835.1C1098.0,1829.2 1111.0,1823.8 1124.0,1819.5C1137.0,1815.2 1150.0,1811.9 1163.0,1809.0C1176.0,1806.1 1189.0,1803.9 1202.0,1801.9C1215.0,1800.0 1228.0,1798.5 1241.0,1797.3C1254.0,1796.1 1267.0,1795.6 1280.0,1794.9C1293.0,1794.2 1306.0,1793.7 1319.0,1793.4C1332.0,1793.2 1345.0,1793.3 1358.0,1793.4C1371.0,1793.5 1384.0,1793.6 1397.0,1794.1C1410.0,1794.5 1418.8,1795.2 1436.0,1796.1C1453.2,1797.0 1482.8,1798.7 1500.0,1799.5C1517.2,1800.3 1525.3,1800.7 1539.0,1801.2C1552.7,1801.7 1568.9,1802.8 1581.9,1802.7C1594.9,1802.6 1604.7,1801.7 1617.0,1800.8C1629.3,1799.9 1643.0,1798.5 1656.0,1797.3C1669.0,1796.1 1682.0,1794.7 1695.0,1793.4C1708.0,1792.1 1721.0,1790.9 1734.0,1789.5C1747.0,1788.1 1760.0,1786.7 1773.0,1785.2C1786.0,1783.7 1799.0,1782.1 1812.0,1780.5C1825.0,1778.9 1840.6,1776.9 1851.0,1775.4C1861.4,1773.9 1867.2,1772.7 1874.6,1771.5C1882.0,1770.3 1892.0,1768.9 1895.5,1768.4L1895.5,1768.4C1913.8,1769.0 1986.8,1771.4 2005.0,1772.0L2005.0,1772.0C2006.3,1773.5 2010.6,1778.5 2013.0,1781.0C2015.4,1783.5 2017.4,1783.7 2019.5,1787.0C2021.6,1790.3 2024.7,1798.7 2025.7,1801.0L2025.7,1801.0C2036.5,1820.1 2079.6,1896.4 2090.4,1915.5L2090.4,1915.5C2088.2,1918.9 2082.3,1928.3 2077.5,1936.0C2072.7,1943.7 2067.0,1953.0 2061.8,1961.9C2056.6,1970.8 2052.1,1979.5 2046.2,1989.2C2040.3,1999.0 2033.2,2010.7 2026.7,2020.4C2020.2,2030.2 2013.7,2039.2 2007.2,2047.7C2000.7,2056.2 1994.2,2063.8 1987.7,2071.2C1981.2,2078.6 1974.7,2084.8 1968.2,2092.0C1961.7,2099.2 1955.2,2106.9 1948.7,2114.1C1942.2,2121.3 1935.7,2128.3 1929.2,2135.3C1922.7,2142.3 1916.2,2149.3 1909.7,2156.0C1903.2,2162.7 1896.7,2168.8 1890.2,2175.3C1883.7,2181.8 1877.2,2188.6 1870.7,2195.0C1864.2,2201.4 1861.0,2204.5 1851.2,2214.0C1841.4,2223.5 1822.5,2242.6 1812.1,2252.2C1801.7,2261.8 1796.5,2265.5 1788.7,2271.7C1780.9,2277.9 1773.1,2284.1 1765.3,2289.2C1757.5,2294.3 1749.7,2298.6 1741.9,2302.1C1734.1,2305.6 1726.3,2307.8 1718.5,2309.9C1710.7,2312.0 1702.9,2313.6 1695.1,2314.6C1687.3,2315.6 1679.5,2315.0 1671.7,2315.8C1663.9,2316.7 1657.4,2317.6 1648.3,2319.7C1639.2,2321.8 1628.7,2324.5 1617.0,2328.2C1605.3,2331.9 1590.2,2337.8 1578.0,2341.9C1565.8,2346.0 1556.9,2348.0 1543.9,2352.6C1530.9,2357.2 1510.7,2365.3 1500.0,2369.5C1489.3,2373.7 1490.9,2372.7 1480.0,2377.5C1469.1,2382.3 1445.6,2393.5 1434.6,2398.5C1423.6,2403.5 1423.1,2403.4 1414.0,2407.5C1404.9,2411.6 1389.8,2418.8 1380.0,2423.0C1370.2,2427.2 1369.3,2426.8 1355.5,2432.5C1341.7,2438.2 1316.5,2449.8 1297.0,2457.5C1277.5,2465.2 1254.3,2473.2 1238.5,2479.0C1222.7,2484.8 1214.6,2488.0 1202.0,2492.0C1189.4,2496.0 1176.0,2499.8 1163.0,2503.0C1150.0,2506.2 1137.0,2508.5 1124.0,2511.4C1111.0,2514.3 1098.0,2517.5 1085.0,2520.4C1072.0,2523.3 1059.0,2526.3 1046.0,2529.0C1033.0,2531.7 1020.0,2533.8 1007.0,2536.8C994.0,2539.8 981.0,2543.1 968.0,2546.8C955.0,2550.5 940.7,2555.2 929.0,2559.0C917.3,2562.8 906.2,2566.7 898.0,2569.8C889.8,2572.9 886.5,2575.1 880.0,2577.5C873.5,2579.9 869.0,2580.0 859.0,2584.5C849.0,2589.0 830.8,2598.1 820.0,2604.5C809.2,2610.9 802.7,2615.8 794.0,2622.7C785.3,2629.6 775.0,2639.2 768.0,2646.1C761.0,2653.0 756.1,2658.4 752.0,2664.0C747.9,2669.6 746.6,2673.2 743.4,2679.9C740.2,2686.6 735.9,2696.9 733.0,2704.0C730.1,2711.1 729.4,2713.3 726.1,2722.4C722.8,2731.5 717.4,2746.7 713.1,2758.8C708.8,2770.9 704.4,2783.0 700.1,2795.2C695.8,2807.3 691.4,2819.1 687.1,2831.7C682.8,2844.3 678.4,2858.1 674.1,2870.7C669.8,2883.3 665.4,2895.4 661.1,2907.1C656.8,2918.8 652.7,2928.8 648.1,2940.9C643.5,2953.0 638.2,2968.6 633.8,2979.9C629.4,2991.2 626.9,2997.2 621.6,3009.0C616.3,3020.8 608.6,3037.6 602.1,3051.0C595.6,3064.4 589.1,3077.8 582.6,3089.4C576.1,3101.0 569.6,3111.3 563.1,3120.7C556.6,3130.1 550.1,3138.8 543.6,3146.0C537.1,3153.2 530.0,3159.0 524.1,3163.6C518.2,3168.2 513.7,3170.7 508.5,3173.3C503.3,3175.9 498.1,3178.0 492.9,3179.2C487.7,3180.4 482.5,3180.7 477.3,3180.4C472.1,3180.1 466.9,3179.0 461.7,3177.2C456.5,3175.4 452.0,3173.0 446.1,3169.4C440.2,3165.8 433.1,3161.3 426.6,3155.8C420.1,3150.3 412.8,3142.4 407.0,3136.3C401.2,3130.2 396.7,3125.0 392.0,3119.0C387.3,3113.0 383.3,3107.0 379.0,3100.5C374.7,3094.0 370.3,3087.1 366.0,3080.0C361.7,3072.9 357.3,3065.9 353.0,3058.0C348.7,3050.1 345.1,3043.4 340.0,3032.5C334.9,3021.6 328.3,3006.0 322.5,2992.5C316.7,2979.0 308.2,2958.3 305.4,2951.5" stroke="#f0f" stroke-width="7.6"/>
<path d="M1856,1774.9L1902,1771.9L2003,1774.8" stroke="#f0f" stroke-width="7.6"/>
</g>
<text x="305.4" y="3296.6" font-size="54" text-anchor="middle">0.0</text>
<text x="662.4" y="3296.6" font-size="54" text-anchor="middle">0.2</text>
<text x="1019.4" y="3296.6" font-size="54" text-anchor="middle">0.4</text>
<text x="1376.4" y="3296.6" font-size="54" text-anchor="middle">0.6</text>
<text x="1733.4" y="3296.6" font-size="54" text-anchor="middle">0.8</text>
<text x="2090.4" y="3296.6" font-size="54" text-anchor="middle">1.0</text>
<text x="256.5" y="1949.1" font-size="54" text-anchor="end">0.05</text>
<text x="256.5" y="2302.6" font-size="54" text-anchor="end">0.00</text>
<text x="256.5" y="2656.1" font-size="54" text-anchor="end">-0.05</text>
<text x="256.5" y="3009.6" font-size="54" text-anchor="end">-0.10</text>
<text transform="translate(1218.6,3373.2) scale(1.01,0.927)" font-size="61" text-anchor="middle">Potential(V)</text>
<text transform="translate(97.8,2450) rotate(-90) scale(1.04,1)" font-size="61" text-anchor="middle">Current(A)</text>
<text x="682.8" y="1833" font-size="75" text-anchor="middle">(b)</text>
<rect x="1662.5" y="2566.8" width="400.7" height="391" fill="#fff" stroke="#000" stroke-width="2.1"/>
<g stroke-width="8" stroke-linecap="round">
<path d="M1673.3,2620.2H1839.4" stroke="#000"/>
<path d="M1673.3,2715.0H1839.4" stroke="#f00"/>
<path d="M1673.3,2809.8H1839.4" stroke="#00f"/>
<path d="M1673.3,2905.0H1839.4" stroke="#f0f"/>
</g>
<text x="1859.3" y="2646.2" font-size="48.5">(5 mV)</text>
<text x="1851.2" y="2741.0" font-size="48.5">(10 mV)</text>
<text x="1851.2" y="2836.1" font-size="48.5">(50 mV)</text>
<text x="1851.2" y="2930.4" font-size="48.5">(100 mV)</text>
<rect x="0" y="3376.8" width="2169" height="18.2" fill="#fff"/>
</svg></body></html>
